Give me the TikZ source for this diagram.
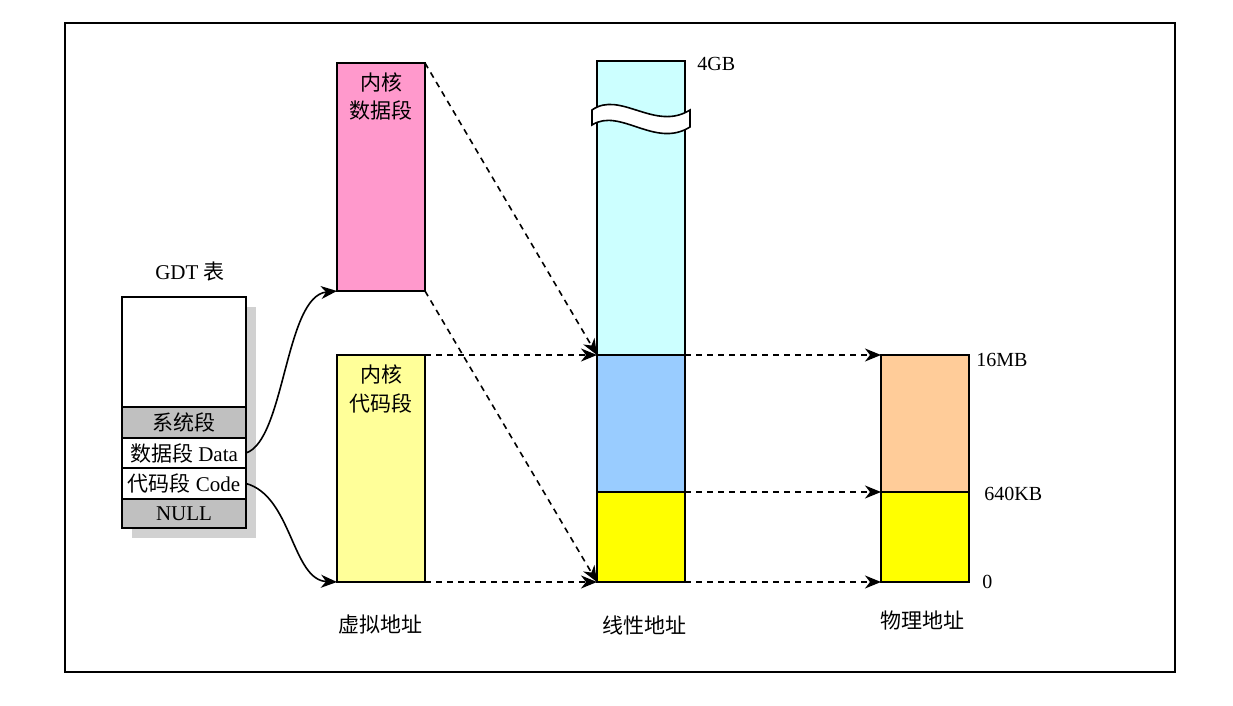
\documentclass[tikz,border=0pt]{standalone}
\usepackage{fontspec}
\setmainfont{Liberation Serif}
\newfontfamily\cjk{Noto Sans CJK SC}
\usetikzlibrary{arrows.meta}
\definecolor{kpink}{HTML}{FF99CC}
\definecolor{kyel}{HTML}{FFFF99}
\definecolor{lcyan}{HTML}{CCFFFF}
\definecolor{lblue}{HTML}{99CCFF}
\definecolor{yel}{HTML}{FFFF00}
\definecolor{porange}{HTML}{FFCC99}
\definecolor{gdtgrey}{HTML}{C0C0C0}
\begin{document}
\begin{tikzpicture}[x=0.5pt,y=-0.5pt,
  seg/.style={draw, line width=0.8pt, inner sep=0pt, outer sep=0pt, anchor=north west, minimum width=44pt},
  gdtrow/.style={draw, line width=0.8pt, inner sep=0pt, outer sep=0pt, anchor=north west, minimum width=62pt, font=\fontsize{10.5}{12}\selectfont},
  darrow/.style={line width=0.8pt, dash pattern=on 3pt off 2.5pt, -{Stealth[length=8pt,width=6.5pt,inset=2.5pt]}},
  carrow/.style={line width=0.8pt, -{Stealth[length=8pt,width=6.5pt,inset=2.5pt]}},
  txt/.style={font=\fontsize{10.5}{12}\selectfont, inner sep=0pt},
  num/.style={font=\fontsize{10}{12}\selectfont, inner sep=0pt}
]
\useasboundingbox (0,0) rectangle (1233,706);
\draw[line width=1pt] (65,23) rectangle (1175,672);

% GDT table
\node[txt] (gdttitle) at (190,272) {GDT {\cjk 表}};
\fill[black!18] (132,307) rectangle (256,538);
\node[gdtrow, fill=white, minimum height=55pt] (gtop) at (122,297) {};
\node[gdtrow, fill=gdtgrey, minimum height=15.5pt] (gsys) at (122,407) {\cjk 系统段};
\node[gdtrow, fill=white, minimum height=15pt] (gdata) at (122,438) {{\cjk 数据段} Data};
\node[gdtrow, fill=white, minimum height=15.5pt] (gcode) at (122,468) {{\cjk 代码段} Code};
\node[gdtrow, fill=gdtgrey, minimum height=14.5pt] (gnull) at (122,499) {NULL};

% virtual address segments
\node[seg, fill=kpink, minimum height=114pt] (kd) at (337,63) {};
\node[txt] (kdt1) at (381,83) {\cjk 内核};
\node[txt] (kdt2) at (381,111) {\cjk 数据段};
\node[seg, fill=kyel, minimum height=113.5pt] (kc) at (337,355) {};
\node[txt] (kct1) at (381,374) {\cjk 内核};
\node[txt] (kct2) at (381,403) {\cjk 代码段};

% linear address
\node[seg, fill=lcyan, minimum height=147pt] (lc) at (597,61) {};
\node[seg, fill=lblue, minimum height=68.5pt] (lb) at (597,355) {};
\node[seg, fill=yel, minimum height=45pt] (ly) at (597,492) {};
% break band
\filldraw[fill=white, line width=0.8pt] (592,110) .. controls (620,90) and (655,132) .. (690,110)
  -- (690,127) .. controls (655,149) and (620,107) .. (592,125) -- cycle;
\node[num, anchor=west] (l4gb) at (697,64) {4GB};

% physical address
\node[seg, fill=porange, minimum height=68.5pt] (po) at (881,355) {};
\node[seg, fill=yel, minimum height=45pt] (py) at (881,492) {};
\node[num, anchor=west] (p16) at (976,360) {16MB};
\node[num, anchor=west] (p640) at (984,494) {640KB};
\node[num, anchor=west] (p0) at (982,582) {0};

% bottom labels
\node[txt] (lv) at (380,625) {\cjk 虚拟地址};
\node[txt] (ll) at (644,625) {\cjk 线性地址};
\node[txt] (lp) at (922,621) {\cjk 物理地址};

% connectors
\draw[carrow] (gdata.east) .. controls (285,440) and (285,296) .. (kd.south west);
\draw[carrow] (gcode.east) .. controls (292,496) and (292,580) .. (kc.south west);

\draw[darrow] (kd.north east) -- (lb.north west);
\draw[darrow] (kd.south east) -- (ly.south west);
\draw[darrow] (kc.north east) -- (lb.north west);
\draw[darrow] (kc.south east) -- (ly.south west);
\draw[darrow] (lb.north east) -- (po.north west);
\draw[darrow] (ly.north east) -- (py.north west);
\draw[darrow] (ly.south east) -- (py.south west);
\end{tikzpicture}
\end{document}
